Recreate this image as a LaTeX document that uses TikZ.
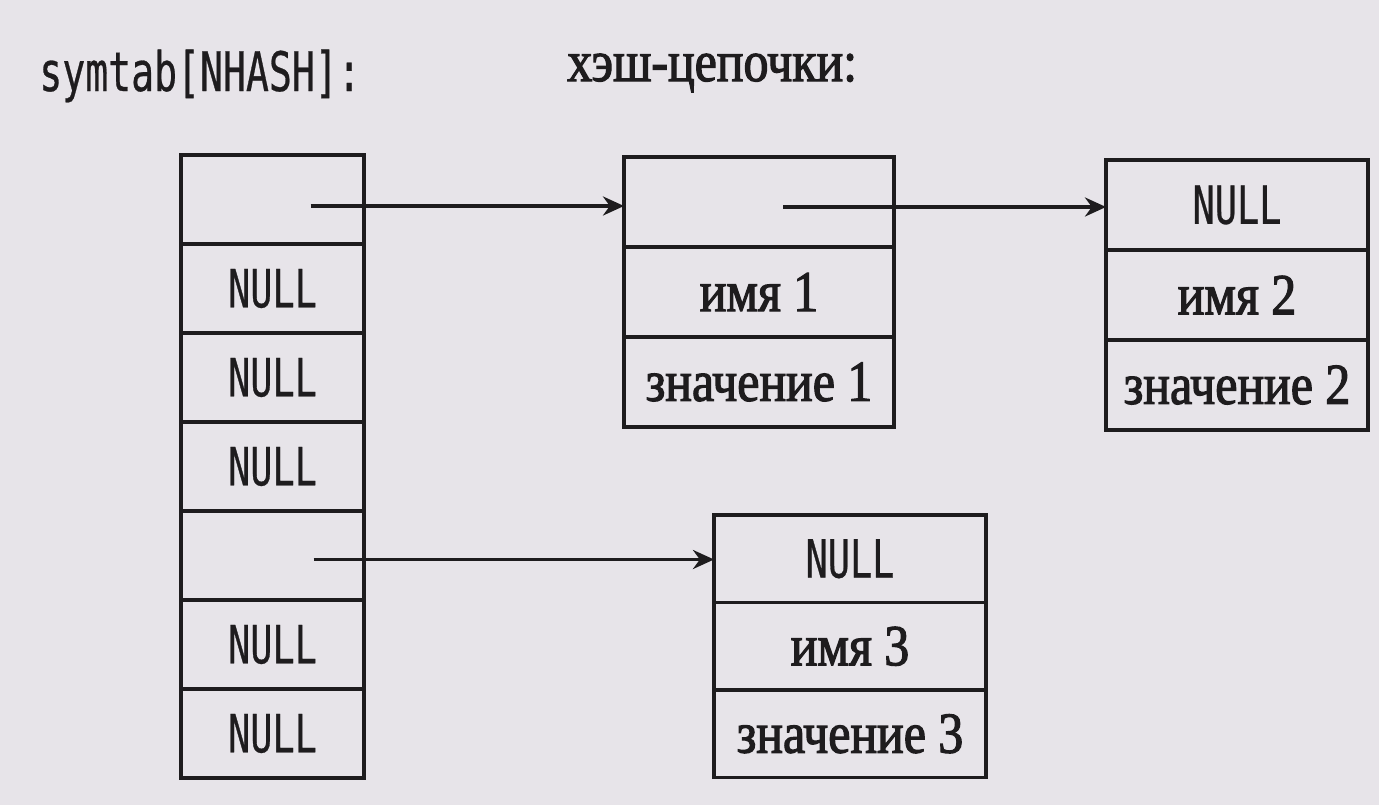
\documentclass[tikz,border=0pt]{standalone}
\usepackage{fontspec}
\usepackage{tikz}
\usetikzlibrary{arrows.meta, positioning}
\newfontfamily\cyrfnt[FakeStretch=0.86,FakeBold=2]{Liberation Serif}
\newfontfamily\monofnt[FakeStretch=0.7,FakeBold=0.5]{DejaVu Sans Mono}
\definecolor{bgcol}{RGB}{231,228,233}
\definecolor{linecol}{RGB}{30,28,30}
\tikzset{
    cell/.style={rectangle, draw=linecol, line width=2pt, outer sep=0pt, inner sep=0pt, minimum width=3.66cm, minimum height=1.78cm, text=linecol, font=\monofnt\fontsize{30}{32}\selectfont},
    entry/.style={cell, minimum width=5.4cm, minimum height=1.8cm, font=\cyrfnt\fontsize{33}{36}\selectfont},
    nullentry/.style={entry, font=\monofnt\fontsize{30}{32}\selectfont},
    ptr/.style={line width=2pt, draw=linecol, -{Stealth[length=0.42cm, width=0.38cm]}}
}

\begin{document}
\begin{tikzpicture}

    % Background
    \fill[bgcol] (0,0) rectangle (27.58,16.1);
    \useasboundingbox (0,0) rectangle (27.58,16.1);

    % Headings
    \node[anchor=west, inner sep=0pt, text=linecol, font=\monofnt\fontsize{31}{33}\selectfont] (H1) at (0.78,14.58) {symtab[NHASH]:};
    \node[anchor=west, inner sep=0pt, text=linecol, font=\cyrfnt\fontsize{33}{36}\selectfont] (H2) at (11.34,14.64) {хэш-цепочки:};

    % Table symtab
    \node[cell, anchor=north west] (T1) at (3.62,13.0) {};
    \node[cell, below=0pt of T1] (T2) {NULL};
    \node[cell, below=0pt of T2] (T3) {NULL};
    \node[cell, below=0pt of T3] (T4) {NULL};
    \node[cell, below=0pt of T4] (T5) {};
    \node[cell, below=0pt of T5] (T6) {NULL};
    \node[cell, below=0pt of T6] (T7) {NULL};

    % Chain 1
    \node[entry, anchor=north west] (A1) at (12.48,12.96) {};
    \node[entry, below=0pt of A1] (A2) {имя 1};
    \node[entry, below=0pt of A2] (A3) {значение 1};

    % Chain 2
    \node[nullentry, anchor=north west, minimum width=5.24cm] (B1) at (22.12,12.9) {NULL};
    \node[entry, below=0pt of B1, minimum width=5.24cm] (B2) {имя 2};
    \node[entry, below=0pt of B2, minimum width=5.24cm] (B3) {значение 2};

    % Chain 3
    \node[nullentry, anchor=north west, minimum width=5.44cm, minimum height=1.75cm] (C1) at (14.28,5.8) {NULL};
    \node[entry, below=0pt of C1, minimum width=5.44cm, minimum height=1.75cm] (C2) {имя 3};
    \node[entry, below=0pt of C2, minimum width=5.44cm, minimum height=1.75cm] (C3) {значение 3};

    % Pointers
    \coordinate (p1) at ([xshift=0.76cm, yshift=-0.13cm]T1.center);
    \coordinate (p2) at ([xshift=0.48cm, yshift=-0.1cm]A1.center);
    \coordinate (p3) at ([xshift=0.82cm, yshift=-0.08cm]T5.center);
    \draw[ptr] (p1) -- (p1 -| A1.west);
    \draw[ptr] (p2) -- (p2 -| B1.west);
    \draw[ptr] (p3) -- (p3 -| C1.west);

\end{tikzpicture}
\end{document}
